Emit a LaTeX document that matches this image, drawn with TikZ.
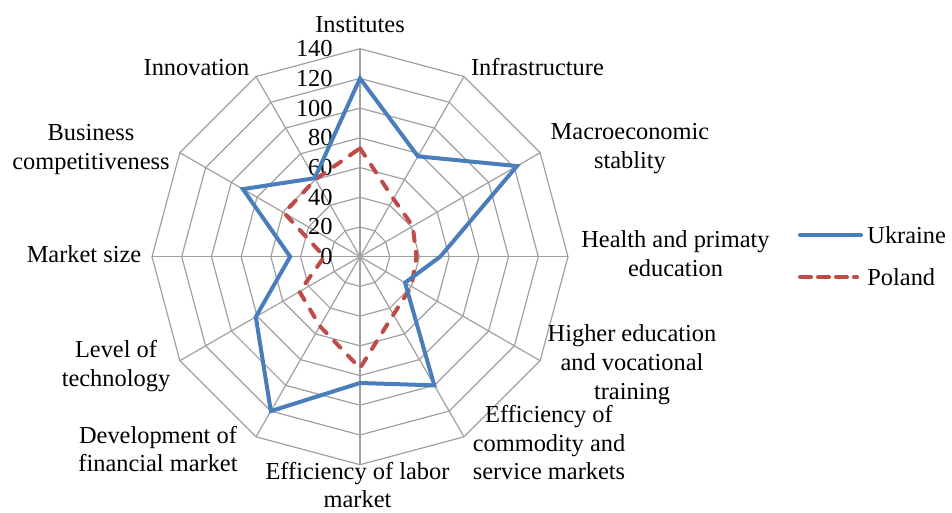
\documentclass[tikz,border=0pt]{standalone}
\usepackage{fontspec}
\setmainfont{Liberation Serif}
\usepackage{xcolor}
\usepackage{tikz}
\usetikzlibrary{positioning}
\definecolor{ukblue}{RGB}{74,126,187}
\definecolor{plred}{RGB}{190,75,72}
\definecolor{gridgray}{RGB}{160,160,160}
\tikzset{
    grid_line/.style={gridgray, line width=0.6pt},
    ukraine_line/.style={ukblue, line width=2pt},
    poland_line/.style={plred, line width=2pt, line cap=round, dash pattern=on 4.5pt off 5.5pt},
    tick_label/.style={anchor=east, inner sep=0pt},
    cat_label/.style={align=center, anchor=base, inner sep=0pt},
    every node/.style={font=\fontsize{12.2}{14.5}\selectfont}
}

\begin{document}
\begin{tikzpicture}[x=0.5pt, y=0.5pt]
    \useasboundingbox (-360,-256.3) rectangle (592,256.7);
    % === GRID: 12 spokes, 7 rings (20 per ring) ===
    \foreach \a in {90,60,...,-240}
        \draw[grid_line] (0,0) -- (\a:208);
    \foreach \k in {1,...,7}
        \draw[grid_line] (90:\k*29.714) \foreach \a in {60,30,...,-240} { -- (\a:\k*29.714)} -- cycle;
    % scale values
    \foreach \v [count=\k from 0] in {0,20,...,140}
        \node[tick_label] (t\v) at (-27,\k*29.714) {\v};
    %
    % === CATEGORY LABELS (base = last line) ===
    \node[cat_label] (l1) at (0,223.7) {Institutes};
    \node[cat_label] (l2) at (177.5,180.7) {Infrastructure};
    \node[cat_label] (l3) at (270,87.7) {Macroeconomic\\stablity};
    \node[cat_label] (l4) at (315.5,-20) {Health and primaty\\education};
    \node[cat_label] (l5) at (272,-143.3) {Higher education\\and vocational\\training};
    \node[cat_label] (l6) at (189,-223.3) {Efficiency of\\commodity and\\service markets};
    \node[cat_label] (l7) at (-2.5,-251.3) {Efficiency of labor\\market};
    \node[cat_label] (l8) at (-202,-215.3) {Development of\\financial market};
    \node[cat_label] (l9) at (-244,-130.3) {Level of\\technology};
    \node[cat_label] (l10) at (-276,-6.3) {Market size};
    \node[cat_label] (l11) at (-269,86.7) {Business\\competitiveness};
    \node[cat_label] (l12) at (-163.5,180.7) {Innovation};
    %
    % === DATA ===
    \foreach \v [count=\i] in {120,78,122,54,35,100,85,120,81,47,91,61}
        \coordinate (u\i) at ({90-30*(\i-1)}:{\v*1.4857});
    \foreach \v [count=\i] in {73,45,41,38,40,45,75,54,47,24,59,60}
        \coordinate (p\i) at ({90-30*(\i-1)}:{\v*1.4857});
    \draw[poland_line] (p1) \foreach \i in {2,...,12}{ -- (p\i)} -- cycle;
    \draw[ukraine_line] (u1) \foreach \i in {2,...,12}{ -- (u\i)} -- cycle;
    %
    % === LEGEND ===
    \coordinate (uk_a) at (440,21.7);
    \coordinate (uk_b) at (501,21.7);
    \coordinate (pl_a) at (440,-20.6);
    \coordinate (pl_b) at (497,-20.6);
    \draw[ukraine_line, line cap=round] (uk_a) -- (uk_b);
    \draw[poland_line, dash pattern=on 5.5pt off 3.5pt] (pl_a) -- (pl_b);
    \node[right=3pt of uk_b, inner sep=0pt] (uk_text) {Ukraine};
    \node[right=5pt of pl_b, inner sep=0pt] (pl_text) {Poland};
\end{tikzpicture}
\end{document}
